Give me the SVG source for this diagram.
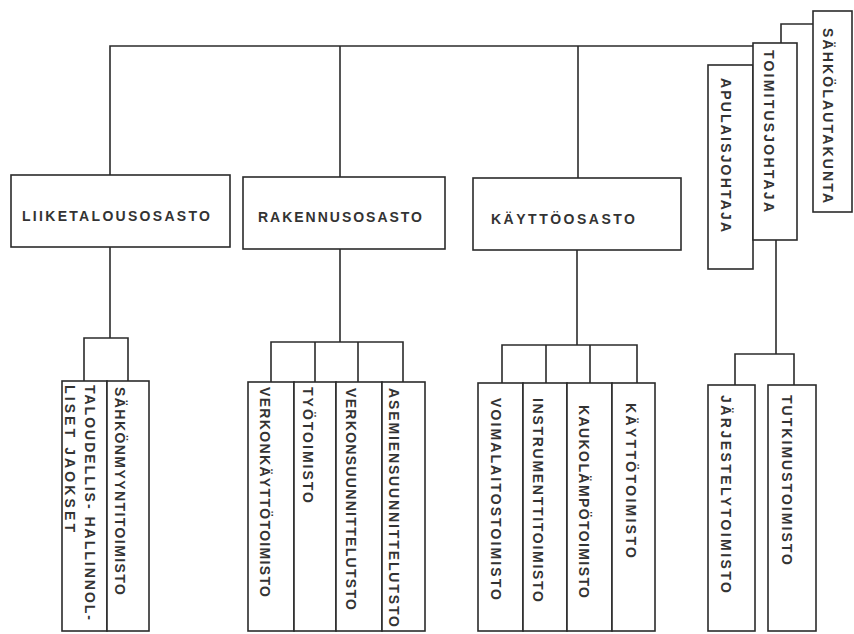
<svg xmlns="http://www.w3.org/2000/svg" width="854" height="634" viewBox="0 0 854 634">
<style>
.box{fill:#fff;stroke:#2b2b2b;stroke-width:1.6}
.ln{fill:none;stroke:#2b2b2b;stroke-width:1.6}
.t{font-family:"Liberation Sans",Arial,sans-serif;font-size:14px;font-weight:bold;fill:#333}
</style>
<rect width="854" height="634" fill="#fff"/>
<g id="connectors">
<path class="ln" d="M110,175 V46 H753"/>
<path class="ln" d="M340,46 V177"/>
<path class="ln" d="M578,46 V178"/>
<path class="ln" d="M813,24 H781 V43"/>
<path class="ln" d="M776,240 V354"/>
<path class="ln" d="M735,385 V354 H794 V385"/>
<path class="ln" d="M110,247 V338"/>
<path class="ln" d="M84,381 V338 H128 V381"/>
<path class="ln" d="M340,249 V342"/>
<path class="ln" d="M271,382 V342 H403 V382 M315,342 V382 M358,342 V382"/>
<path class="ln" d="M577,250 V345"/>
<path class="ln" d="M502,383 V345 H637 V383 M546,345 V383 M590,345 V383"/>
</g>
<g id="sahkolautakunta">
<rect class="box" x="813" y="11" width="39" height="201"/>
<text class="t" transform="translate(823,28) rotate(90)" textLength="175" lengthAdjust="spacing">SÄHKÖLAUTAKUNTA</text>
</g>
<g id="apulaisjohtaja">
<rect class="box" x="708" y="65" width="45" height="204"/>
<text class="t" transform="translate(721,78) rotate(90)" textLength="154" lengthAdjust="spacing">APULAISJOHTAJA</text>
</g>
<g id="toimitusjohtaja">
<rect class="box" x="753" y="43" width="44" height="197"/>
<text class="t" transform="translate(764,50) rotate(90)" textLength="162" lengthAdjust="spacing">TOIMITUSJOHTAJA</text>
</g>
<g id="liiketalousosasto">
<rect class="box" x="11" y="175" width="219" height="72"/>
<text class="t" x="22" y="221" textLength="188" lengthAdjust="spacing">LIIKETALOUSOSASTO</text>
</g>
<g id="rakennusosasto">
<rect class="box" x="243" y="177" width="202" height="72"/>
<text class="t" x="258" y="222" textLength="164" lengthAdjust="spacing">RAKENNUSOSASTO</text>
</g>
<g id="kayttoosasto">
<rect class="box" x="473" y="178" width="208" height="72"/>
<text class="t" x="491" y="224" textLength="144" lengthAdjust="spacing">KÄYTTÖOSASTO</text>
</g>
<g id="taloudellis">
<rect class="box" x="62" y="381" width="45" height="250"/>
<text class="t" transform="translate(85,385) rotate(90)" textLength="235" lengthAdjust="spacing">TALOUDELLIS- HALLINNOL-</text>
<text class="t" transform="translate(65,385) rotate(90)" textLength="147" lengthAdjust="spacing">LISET  JAOKSET</text>
</g>
<g id="sahkonmyynti">
<rect class="box" x="107" y="381" width="42" height="250"/>
<text class="t" transform="translate(115,387) rotate(90)" textLength="208" lengthAdjust="spacing">SÄHKÖNMYYNTITOIMISTO</text>
</g>
<g id="verkonkaytto">
<rect class="box" x="248" y="382" width="46" height="249"/>
<text class="t" transform="translate(260,387) rotate(90)" textLength="210" lengthAdjust="spacing">VERKONKÄYTTÖTOIMISTO</text>
</g>
<g id="tyotoimisto">
<rect class="box" x="294" y="382" width="42" height="249"/>
<text class="t" transform="translate(303,387) rotate(90)" textLength="116" lengthAdjust="spacing">TYÖTOIMISTO</text>
</g>
<g id="verkonsuunnittelu">
<rect class="box" x="336" y="382" width="46" height="249"/>
<text class="t" transform="translate(346,388) rotate(90)" textLength="222" lengthAdjust="spacing">VERKONSUUNNITTELUTSTO</text>
</g>
<g id="asemiensuunnittelu">
<rect class="box" x="382" y="382" width="43" height="249"/>
<text class="t" transform="translate(389,388) rotate(90)" textLength="239" lengthAdjust="spacing">ASEMIENSUUNNITTELUTSTO</text>
</g>
<g id="voimalaitos">
<rect class="box" x="478" y="383" width="45" height="248"/>
<text class="t" transform="translate(491,398) rotate(90)" textLength="202" lengthAdjust="spacing">VOIMALAITOSTOIMISTO</text>
</g>
<g id="instrumentti">
<rect class="box" x="523" y="383" width="44" height="248"/>
<text class="t" transform="translate(533,398) rotate(90)" textLength="204" lengthAdjust="spacing">INSTRUMENTTITOIMISTO</text>
</g>
<g id="kaukolampo">
<rect class="box" x="567" y="383" width="45" height="248"/>
<text class="t" transform="translate(579,405) rotate(90)" textLength="193" lengthAdjust="spacing">KAUKOLÄMPÖTOIMISTO</text>
</g>
<g id="kayttotoimisto">
<rect class="box" x="612" y="383" width="43" height="248"/>
<text class="t" transform="translate(626,403) rotate(90)" textLength="155" lengthAdjust="spacing">KÄYTTÖTOIMISTO</text>
</g>
<g id="jarjestely">
<rect class="box" x="708" y="385" width="47" height="246"/>
<text class="t" transform="translate(721,395) rotate(90)" textLength="198" lengthAdjust="spacing">JÄRJESTELYTOIMISTO</text>
</g>
<g id="tutkimus">
<rect class="box" x="768" y="385" width="48" height="246"/>
<text class="t" transform="translate(782,395) rotate(90)" textLength="170" lengthAdjust="spacing">TUTKIMUSTOIMISTO</text>
</g>
</svg>
